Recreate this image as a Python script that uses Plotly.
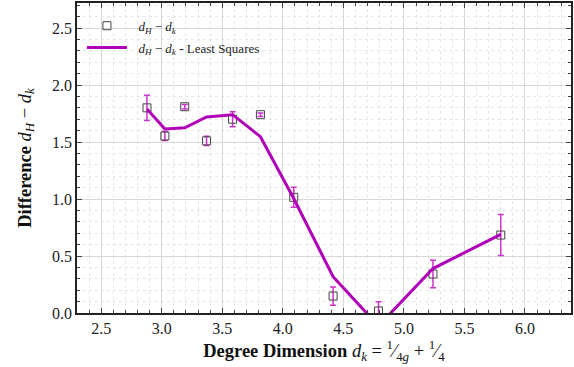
import plotly.graph_objects as go

# Data
x_vals = [2.878, 3.026, 3.19, 3.37, 3.585, 3.815, 4.09, 4.415, 4.79, 5.24, 5.80]
diff_vals = [1.80, 1.553, 1.81, 1.51, 1.70, 1.74, 1.015, 0.149, 0.018, 0.342, 0.684]
diff_err = [0.11, 0.04, 0.02, 0.04, 0.065, 0.015, 0.088, 0.08, 0.08, 0.12, 0.18]
lsq_vals = [1.79, 1.614, 1.625, 1.72, 1.74, 1.547, 1.005, 0.318, -0.113, 0.39, 0.69]

x_ticks = [2.5, 3.0, 3.5, 4.0, 4.5, 5.0, 5.5, 6.0]
y_ticks = [0.0, 0.5, 1.0, 1.5, 2.0, 2.5]

MAG = "#b000b8"
FONT = "Liberation Serif"

fig = go.Figure()
fig.add_trace(go.Scatter(
    x=x_vals, y=diff_vals, mode="markers", legendgroup="a",
    name="&nbsp;&nbsp;<i>d<sub>H</sub></i> − <i>d<sub>k</sub></i>",
    marker=dict(symbol="square-open", size=8, color="#444444", line=dict(width=1)),
    error_y=dict(type="data", array=diff_err, visible=True, color="#cc33cc",
                 thickness=1.5, width=3),
))
fig.add_trace(go.Scatter(
    x=x_vals, y=lsq_vals, mode="lines", legendgroup="b",
    name="&nbsp;&nbsp;<i>d<sub>H</sub></i> − <i>d<sub>k</sub></i> - Least Squares",
    line=dict(color=MAG, width=3),
))

axis_common = dict(
    showline=True, linecolor="#222222", linewidth=1.5, mirror="allticks",
    ticks="inside", ticklen=5, tickcolor="#444444",
    showgrid=True, gridcolor="#d8d8d8", gridwidth=1,
    zeroline=False,
    tickfont=dict(family=FONT, size=16, color="#222222"),
)

fig.update_xaxes(
    range=[2.30, 6.38], tickvals=x_ticks, ticktext=[f"{v:.1f}" for v in x_ticks],
    minor=dict(dtick=0.1, ticks="inside", ticklen=3, tickcolor="#444444",
               showgrid=True, gridcolor="#e6e6e6", griddash="dot", gridwidth=1),
    title=dict(text="<b>Degree Dimension</b> <i>d<sub>k</sub></i> = <sup>1</sup>⁄<sub>4<i>g</i></sub> + <sup>1</sup>⁄<sub>4</sub>",
               font=dict(family=FONT, size=18.5, color="#111111"), standoff=6),
    **axis_common,
)
fig.update_yaxes(
    range=[0, 2.72], tickvals=y_ticks, ticktext=[f"{v:.1f}" for v in y_ticks],
    minor=dict(dtick=0.1, ticks="inside", ticklen=3, tickcolor="#444444",
               showgrid=True, gridcolor="#e6e6e6", griddash="dot", gridwidth=1),
    title=dict(text="<b>Difference</b> <i>d<sub>H</sub></i> − <i>d<sub>k</sub></i>",
               font=dict(family=FONT, size=18.5, color="#111111"), standoff=16),
    **axis_common,
)

fig.update_layout(
    width=574, height=367,
    margin=dict(l=77, r=1, t=3, b=54),
    plot_bgcolor="white", paper_bgcolor="white",
    showlegend=True,
    legend=dict(x=0.01, y=0.975, xanchor="left", yanchor="top",
                bgcolor="rgba(255,255,255,0)", borderwidth=0,
                font=dict(family=FONT, size=13, color="#222222"),
                itemwidth=40, tracegroupgap=2),
)

fig.write_html("out.html")
